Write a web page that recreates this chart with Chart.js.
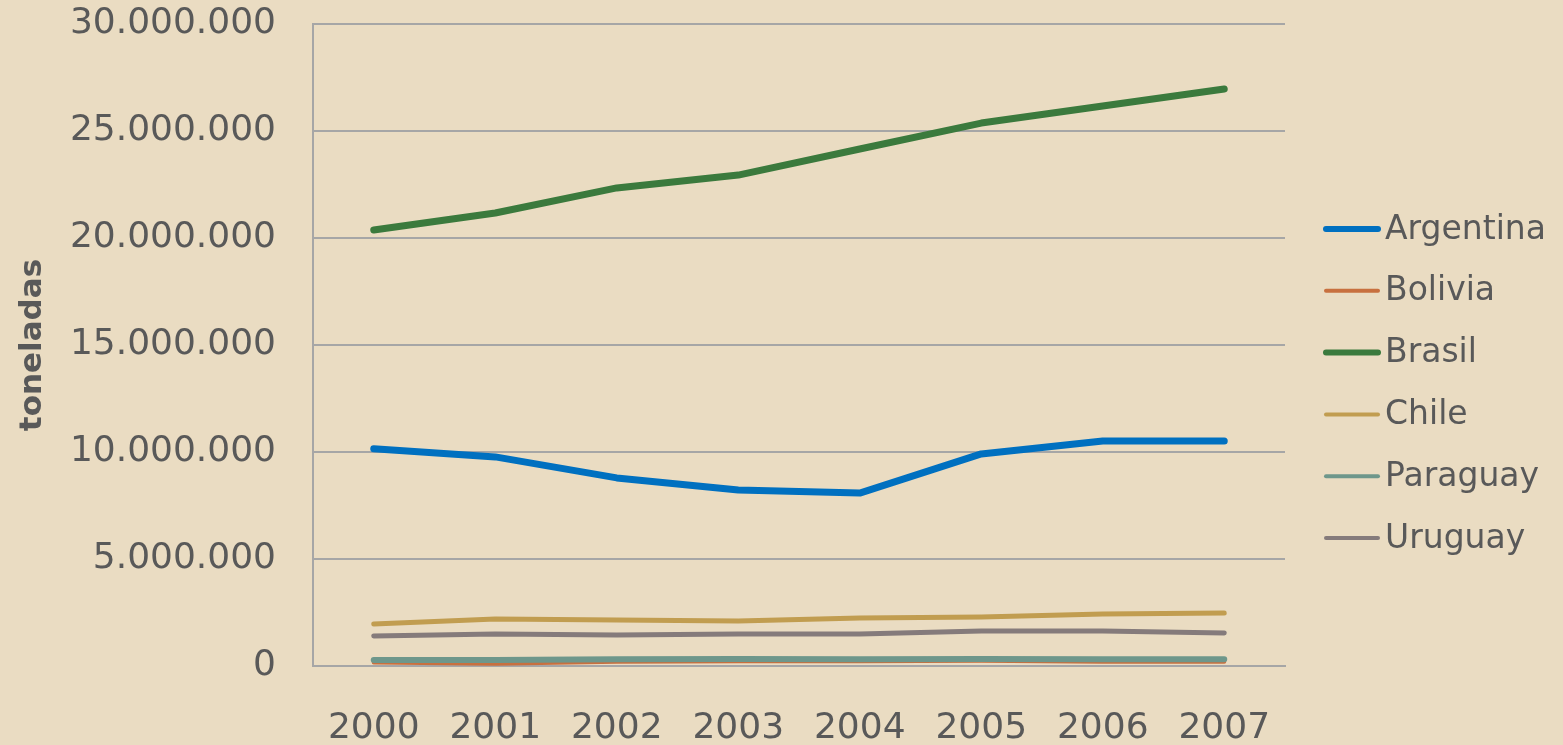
<!DOCTYPE html>
<html>
<head>
<meta charset="utf-8">
<script src="https://cdn.jsdelivr.net/npm/chart.js@4/dist/chart.umd.min.js"></script>
<style>
  html, body { margin: 0; padding: 0; background: #EADCC2; overflow: hidden; }
  canvas { display: block; }
</style>
</head>
<body>
<canvas id="grafico" width="1563" height="745"></canvas>
<script>
// años
const anios = ["2000", "2001", "2002", "2003", "2004", "2005", "2006", "2007"];

// toneladas por país
const argentina = [10150000, 9770000, 8790000, 8220000, 8080000, 9910000, 10510000, 10510000];
const bolivia   = [160000, 100000, 200000, 220000, 220000, 240000, 200000, 200000];
const brasil    = [20370000, 21170000, 22340000, 22940000, 24160000, 25370000, 26170000, 26960000];
const chile     = [1960000, 2200000, 2150000, 2100000, 2240000, 2290000, 2430000, 2480000];
const paraguay  = [280000, 280000, 320000, 330000, 310000, 330000, 320000, 320000];
const uruguay   = [1400000, 1500000, 1450000, 1500000, 1500000, 1640000, 1640000, 1540000];

const texto = "#595959";
const grilla = "#A6A6A6";

function conPuntos(v) {
    return String(v).replace(/\B(?=(\d{3})+(?!\d))/g, ".");
}

function serie(nombre, datos, color, ancho, muestra, orden) {
    return {
        label: nombre,
        data: datos,
        borderColor: color,
        backgroundColor: color,
        borderWidth: ancho,
        anchoMuestra: muestra,
        borderCapStyle: "round",
        borderJoinStyle: "round",
        pointRadius: 0,
        tension: 0,
        order: orden
    };
}

// leyenda dibujada a mano para ubicar las muestras como en el original
const leyenda = {
    id: "leyenda",
    afterDraw(chart) {
        const ctx = chart.ctx;
        ctx.save();
        ctx.font = "33px 'DejaVu Sans'";
        ctx.textBaseline = "middle";
        ctx.lineCap = "round";
        chart.data.datasets.forEach((ds, i) => {
            const y = 229 + i * 61.8;
            ctx.strokeStyle = ds.borderColor;
            ctx.lineWidth = ds.anchoMuestra;
            ctx.beginPath();
            ctx.moveTo(1326, y);
            ctx.lineTo(1378, y);
            ctx.stroke();
            ctx.fillStyle = texto;
            ctx.fillText(ds.label, 1385, y + 1);
        });
        ctx.restore();
    }
};

Chart.defaults.font.family = "'DejaVu Sans'";
Chart.defaults.color = texto;

const ctx = document.getElementById("grafico").getContext("2d");
new Chart(ctx, {
    type: "line",
    data: {
        labels: anios,
        datasets: [
            serie("Argentina", argentina, "#0070C0", 7, 6, 0),
            serie("Bolivia", bolivia, "#C8703F", 4, 4, 3),
            serie("Brasil", brasil, "#3B7A3D", 7, 6, 0),
            serie("Chile", chile, "#C19D50", 5, 4, 1),
            serie("Paraguay", paraguay, "#6E978B", 6, 4, 2),
            serie("Uruguay", uruguay, "#857B7B", 5, 4, 1)
        ]
    },
    options: {
        responsive: false,
        animation: false,
        layout: { padding: { left: 0, right: 278, top: 24, bottom: 0 } },
        plugins: {
            legend: { display: false },
            tooltip: { enabled: false }
        },
        scales: {
            x: {
                offset: true,
                grid: { display: false, drawTicks: false },
                border: { display: true, color: grilla, width: 2 },
                ticks: { font: { size: 36 }, padding: 41, color: texto, maxRotation: 0 },
                afterFit(scale) {
                    scale.height = 79;
                    scale.paddingLeft = 0;
                    scale.paddingRight = 0;
                }
            },
            y: {
                min: 0,
                max: 30000000,
                grid: { color: grilla, lineWidth: 2, drawTicks: false },
                border: { display: true, color: grilla, width: 2 },
                ticks: {
                    stepSize: 5000000,
                    font: { size: 36 },
                    padding: 37,
                    color: texto,
                    callback: v => conPuntos(v)
                },
                title: {
                    display: true,
                    text: "toneladas",
                    font: { size: 31, weight: "bold" },
                    color: texto,
                    padding: { top: 14, bottom: 10 }
                },
                afterFit(scale) {
                    scale.width = 313;
                    scale.paddingTop = 0;
                    scale.paddingBottom = 0;
                }
            }
        }
    },
    plugins: [leyenda]
});
</script>
</body>
</html>
